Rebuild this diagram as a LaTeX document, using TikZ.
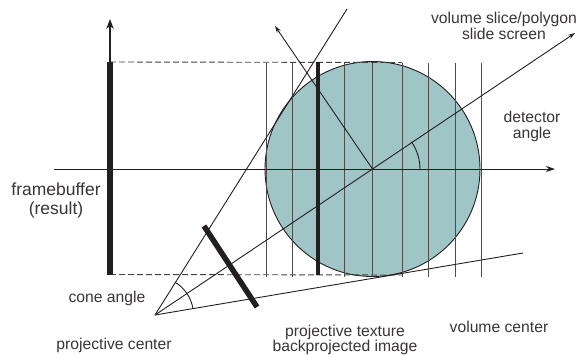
\documentclass[tikz,border=0pt]{standalone}
\usepackage{fontspec}
\setmainfont{Liberation Sans}
\usetikzlibrary{arrows.meta}
\definecolor{ink}{HTML}{231F20}
\definecolor{teal}{HTML}{9FC5C7}
\tikzset{
  x=1pt,y=-1pt,
  thin line/.style={draw=ink,line width=0.9pt},
  slice/.style={draw=ink!80,line width=0.9pt},
  bar/.style={draw=ink,line width=5.5pt},
  dash line/.style={draw=ink!85,line width=0.9pt,dash pattern=on 6pt off 3pt},
  tip/.style={-{Stealth[length=10pt,width=7.5pt]}},
  label/.style={font=\fontsize{15.7pt}{16pt}\selectfont,text=ink!90,inner sep=0pt,align=center},
}
\begin{document}
\begin{tikzpicture}
\useasboundingbox (0,0) rectangle (579,354);
\coordinate (c) at (372.5,169);
\coordinate (p) at (155,315);
\coordinate (u1) at (347,9);
\coordinate (u2) at (575,33);
\coordinate (u3) at (523,253);
\coordinate (n) at (275,26);
\coordinate (axL) at (54,169);
\coordinate (axR) at (555,169);
\coordinate (fT) at (110,62);
\coordinate (fB) at (110,274.5);
\coordinate (yTip) at (110,19);
\coordinate (dT) at (402,62.5);
\coordinate (dB) at (402,275);
\coordinate (tA) at (204,226);
\coordinate (tB) at (257,307);

\fill[teal] (c) circle (107.5);
\draw[thin line] (c) circle (107.5);

\foreach \x in {266,292,344,372.5,402,428,455,481}
  \draw[slice] (\x,63) -- (\x,277);

\draw[dash line] (fT) -- (dT);
\draw[dash line] (fB) -- (dB);

\draw[thin line,line width=1pt,-{Stealth[length=9pt,width=6pt]}] (axL) -- (axR);
\draw[thin line,line width=1.3pt,tip] (fT) -- (yTip);
\draw[bar] (fT) -- (fB);
\draw[bar,line width=3.8pt] (318,62) -- (318,275);
\draw[bar] (tA) -- (tB);

\draw[thin line] (p) -- (u1);
\draw[thin line,-{Stealth[length=7pt,width=4.5pt]}] (p) -- (u2);
\draw[thin line] (p) -- (u3);
\draw[thin line,-{Stealth[length=7pt,width=4.5pt]}] (c) -- (n);

\draw[thin line] (193,308.7) arc[start angle=-9.5,end angle=-59,radius=38.5];
\draw[thin line] (420,169) arc[start angle=0,end angle=-35,radius=47.5];

\node[label] (l1) at (504,26) {volume slice/polygon\\slide screen};
\node[label] (l2) at (532,126) {detector\\angle};
\node[label,font=\fontsize{17.5pt}{19pt}\selectfont] (l3) at (56,200.5) {framebuffer\\(result)};
\node[label] (l4) at (107,298) {cone angle};
\node[label] (l5) at (114,345) {projective center};
\node[label,font=\fontsize{15.7pt}{15pt}\selectfont] (l6) at (345,339.5) {projective texture\\backprojected image};
\node[label] (l7) at (499,327) {volume center};
\end{tikzpicture}
\end{document}
